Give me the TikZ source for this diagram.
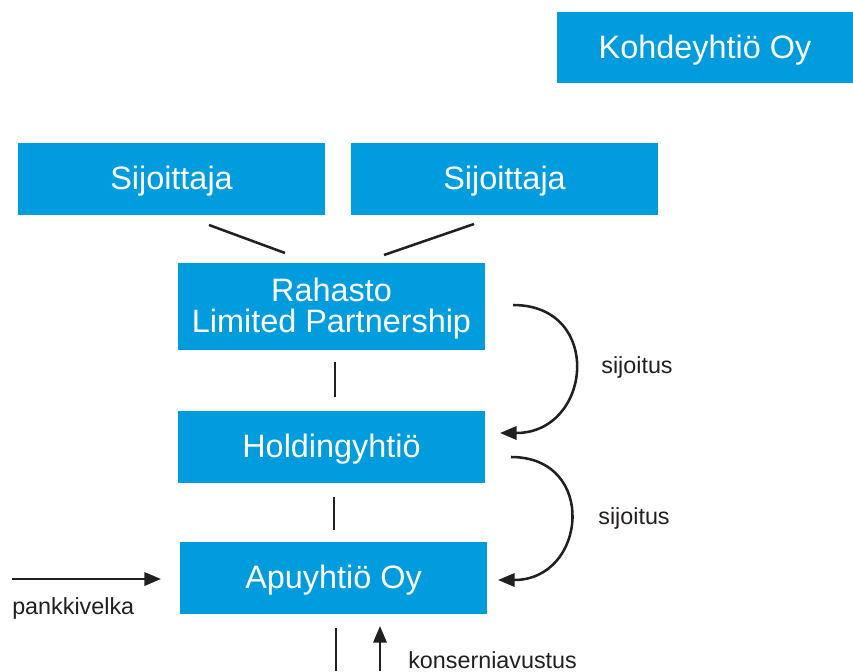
\documentclass[tikz,border=0pt]{standalone}
\usepackage{fontspec}
\setmainfont{Liberation Sans}
\usetikzlibrary{arrows.meta}
\definecolor{boxblue}{RGB}{0,156,222}
\definecolor{ink}{RGB}{35,31,32}
\tikzset{
  bluebox/.style={rectangle, fill=boxblue, text=white, inner sep=0pt, align=center,
    font=\fontsize{24.3}{23.5}\selectfont, minimum width=230.25pt, minimum height=54pt,
    text height=18pt, text depth=2pt},
  conn/.style={draw=ink, line width=1.9pt},
  arr/.style={conn, -{Triangle[length=12.5pt,width=10pt]}},
  lbl/.style={text=ink, font=\fontsize{17.5}{20}\selectfont, inner sep=0pt}
}
\begin{document}
\begin{tikzpicture}[x=0.75pt,y=-0.75pt]
\useasboundingbox (0,0) rectangle (853,671);
\node[bluebox, minimum width=222pt, minimum height=53.25pt] (kohde) at (705,47.5) {Kohdeyhtiö Oy};
\node[bluebox] (sij1) at (171.5,179) {Sijoittaja};
\node[bluebox] (sij2) at (504.5,179) {Sijoittaja};
\node[bluebox, minimum height=65.25pt] (rah) at (331.5,306.5) {};
\node[text=white, inner sep=0pt, align=center, font=\fontsize{24.3}{23.5}\selectfont]
  (rahtxt) at ([yshift=-1.5pt]rah.center) {Rahasto\\Limited Partnership};
\node[bluebox] (hold) at (331.5,447) {Holdingyhtiö};
\node[bluebox] (apu) at (333.5,578) {Apuyhtiö Oy};
% investor lines
\coordinate (s1a) at (209,225);
\coordinate (s1b) at (285,253);
\coordinate (s2a) at (474,224);
\coordinate (s2b) at (384,255);
\draw[conn] (s1a) -- (s1b);
\draw[conn] (s2a) -- (s2b);
% vertical lines
\draw[conn] (335,362) -- (335,397);
\draw[conn] (334,497) -- (334,530);
\coordinate (bl1) at (336,628);
\coordinate (bl2) at (336,671);
\draw[conn] (bl1) -- (bl2);
% curved arrows
\coordinate (c1s) at (513,305);
\coordinate (c1e) at (500,433);
\draw[arr] (c1s) .. controls (604,305) and (592,433) .. (c1e);
\node[lbl] (l1) at (637,367) {sijoitus};
\coordinate (c2s) at (511,457);
\coordinate (c2e) at (498,580);
\draw[arr] (c2s) .. controls (598,457) and (587,580) .. (c2e);
\node[lbl] (l2) at (634,518) {sijoitus};
% pankkivelka
\coordinate (pk) at (12,579);
\coordinate (pke) at (161,579);
\draw[arr] (pk) -- (pke);
\node[lbl, anchor=west] (l3) at (12,608) {pankkivelka};
% konserniavustus
\coordinate (ka) at (380,671);
\coordinate (kb) at (380,626);
\draw[arr] (ka) -- (kb);
\node[lbl, anchor=west] (l4) at (408,660) {konserniavustus};
\end{tikzpicture}
\end{document}
